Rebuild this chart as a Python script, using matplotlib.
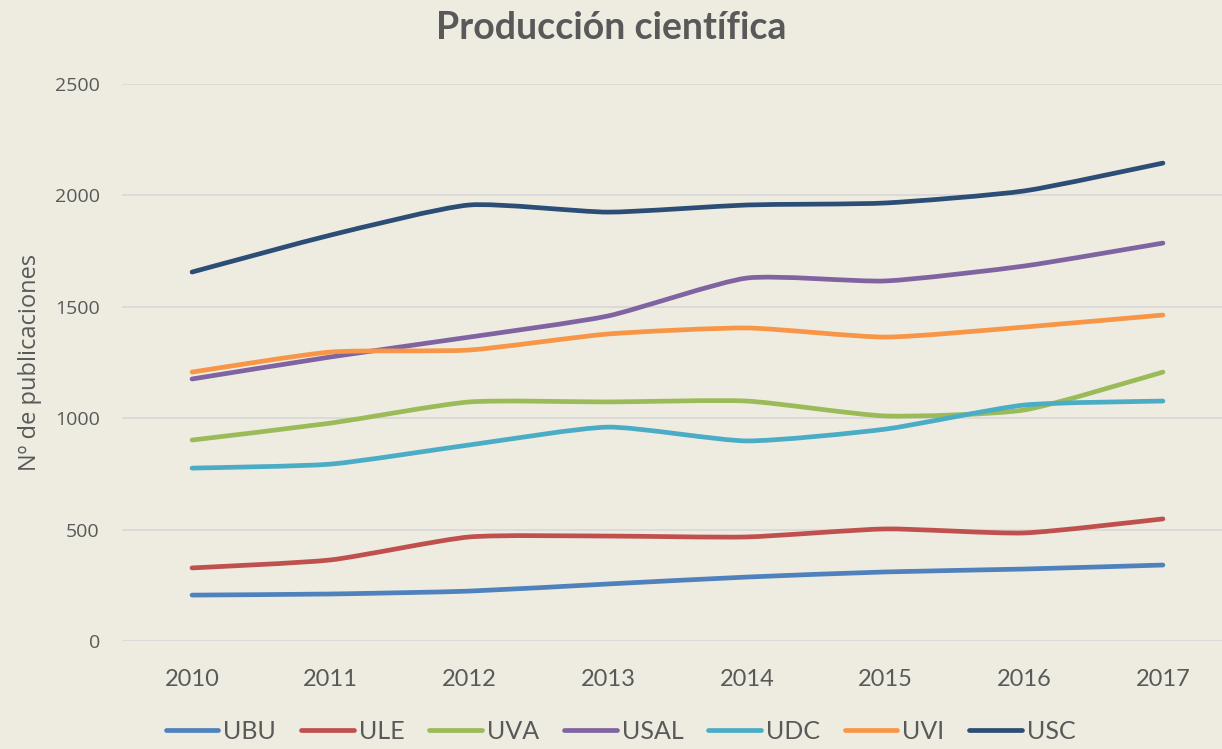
import numpy as np
import matplotlib
matplotlib.use("Agg")
import matplotlib.pyplot as plt
from matplotlib.path import Path
from matplotlib.patches import PathPatch
from matplotlib.lines import Line2D

# data
years = ["2010", "2011", "2012", "2013", "2014", "2015", "2016", "2017"]
ubu = [206, 211, 224, 256, 287, 310, 323, 341]
ule = [328, 364, 467, 471, 467, 503, 485, 548]
uva = [902, 978, 1073, 1073, 1077, 1010, 1037, 1207]
usal = [1176, 1275, 1364, 1459, 1629, 1616, 1683, 1786]
udc = [776, 794, 880, 960, 898, 951, 1059, 1077]
uvi = [1207, 1297, 1306, 1378, 1405, 1364, 1409, 1463]
usc = [1656, 1822, 1957, 1925, 1957, 1966, 2020, 2145]

names = ["UBU", "ULE", "UVA", "USAL", "UDC", "UVI", "USC"]
series = [ubu, ule, uva, usal, udc, uvi, usc]
colors = ["#4F81BD", "#C0504D", "#9BBB59", "#8064A2", "#4BACC6", "#F79646", "#2C4D75"]

bg = "#EEECE1"
txt = "#595959"
narrow = ["Lato", "DejaVu Sans"]
opens = ["Open Sans", "DejaVu Sans"]


def smooth_path(xs, ys, k=10):
    # mild bezier smoothing between points, like Excel's smoothed line
    pts = np.column_stack([xs, ys]).astype(float)
    verts = [pts[0]]
    codes = [Path.MOVETO]
    n = len(pts)
    for i in range(n - 1):
        p0 = pts[i - 1] if i > 0 else pts[i]
        p1 = pts[i]
        p2 = pts[i + 1]
        p3 = pts[i + 2] if i + 2 < n else pts[i + 1]
        c1 = p1 + (p2 - p0) / k
        c2 = p2 - (p3 - p1) / k
        verts += [c1, c2, p2]
        codes += [Path.CURVE4] * 3
    return Path(verts, codes)


fig = plt.figure(figsize=(12.22, 7.49), dpi=100, facecolor=bg)
ax = fig.add_axes([122 / 1222, 1 - 641 / 749, 1 - 122 / 1222, (641 - 84) / 749])
ax.set_facecolor(bg)

x = np.arange(len(years))
for vals, c in zip(series, colors):
    patch = PathPatch(smooth_path(x, vals), facecolor="none", edgecolor=c,
                      lw=3.4, capstyle="round", joinstyle="round", zorder=3)
    ax.add_patch(patch)

ax.set_xlim(-0.505, 7.426)
ax.set_ylim(0, 2500)
ax.set_yticks(np.arange(0, 2501, 500))
ax.set_xticks(x)
ax.set_xticklabels(years, family=narrow, fontsize=17, color=txt)
ax.tick_params(axis="x", pad=20, length=0)
ax.tick_params(axis="y", length=0, pad=16, labelsize=14, labelcolor=txt)
for lab in ax.get_yticklabels():
    lab.set_family(opens)
ax.grid(axis="y", color="#D9D9D9", lw=1.3, zorder=0)
for s in ax.spines.values():
    s.set_visible(False)

ax.set_ylabel("Nº de publicaciones", fontsize=17, color=txt,
              family=opens, labelpad=9)

fig.suptitle("Producción científica", y=0.985, fontsize=27, fontweight="bold",
             color=txt, family=narrow)

handles = [Line2D([], [], color=c, lw=3.4, solid_capstyle="round") for c in colors]
fig.legend(handles, names, loc="lower center", bbox_to_anchor=(0.508, -0.022),
           ncol=7, frameon=False, handlelength=2.1, handletextpad=0.2,
           columnspacing=1.0, prop={"family": narrow, "size": 18},
           labelcolor=txt)

fig.savefig("out.png", dpi=100, facecolor=bg)
